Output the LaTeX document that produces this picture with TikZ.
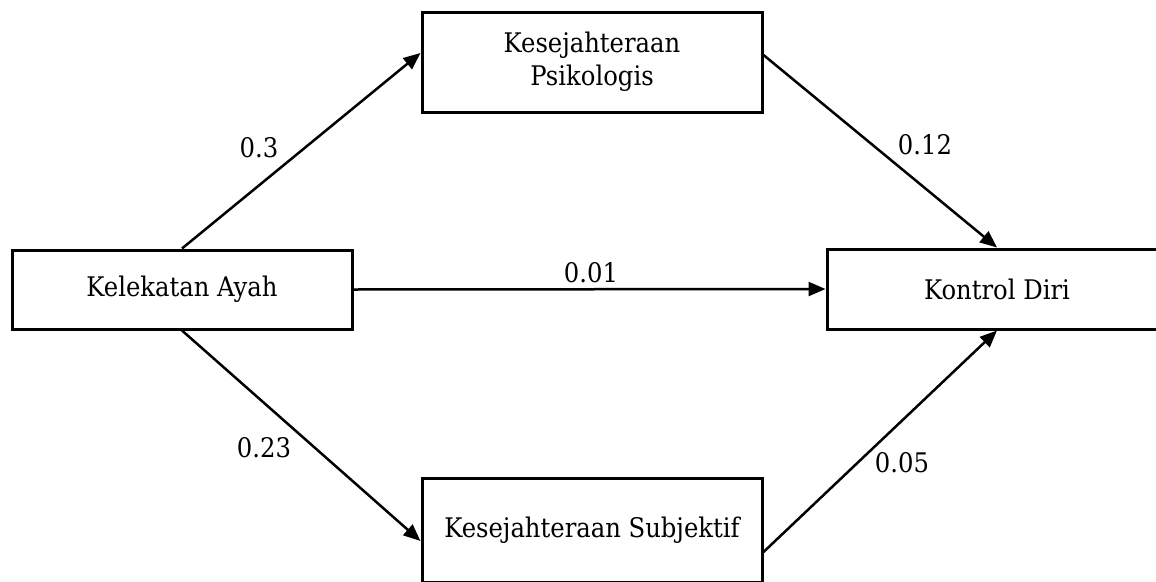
\documentclass[tikz,border=0pt]{standalone}
\usepackage{fontspec}
\setmainfont{DejaVu Serif Condensed}
\usetikzlibrary{arrows.meta,calc}
\begin{document}
\begin{tikzpicture}[x=1pt,y=-1pt,
  box/.style={draw,line width=3pt,minimum width=340pt,inner sep=0pt,align=center,
    font=\fontsize{27}{33}\selectfont},
  arr/.style={line width=2.5pt,-{Triangle[length=17pt,width=14pt]}},
  lbl/.style={inner sep=0pt,font=\fontsize{27}{33}\selectfont}]
\useasboundingbox (0,0) rectangle (1156,581);
\clip (0,0) rectangle (1156,581);
\fill[white] (0,0) rectangle (1156,581);
\node[box,minimum height=79pt] (A) at (182,289.5) {Kelekatan Ayah};
\node[box,minimum height=100pt] (P) at (592,62) {Kesejahteraan\\Psikologis};
\node[box,minimum height=104pt] (S) at (592,530) {Kesejahteraan Subjektif};
\node[box,minimum height=80pt] (K) at (997,289) {Kontrol Diri};
\draw[arr] (A.north) -- ($(P.west)+(0,-9)$);
\draw[arr] ($(P.east)+(0,-7)$) -- (K.north);
\draw[arr] (A.east) -- (K.west);
\draw[arr] (A.south) -- ($(S.west)+(0,11)$);
\draw[arr] ($(S.east)+(0,22)$) -- (K.south);
\node[lbl] (l1) at (259,148) {0.3};
\node[lbl] (l2) at (925,145) {0.12};
\node[lbl] (l3) at (591,273) {0.01};
\node[lbl] (l4) at (264,448) {0.23};
\node[lbl] (l5) at (902,463) {0.05};
\end{tikzpicture}
\end{document}
